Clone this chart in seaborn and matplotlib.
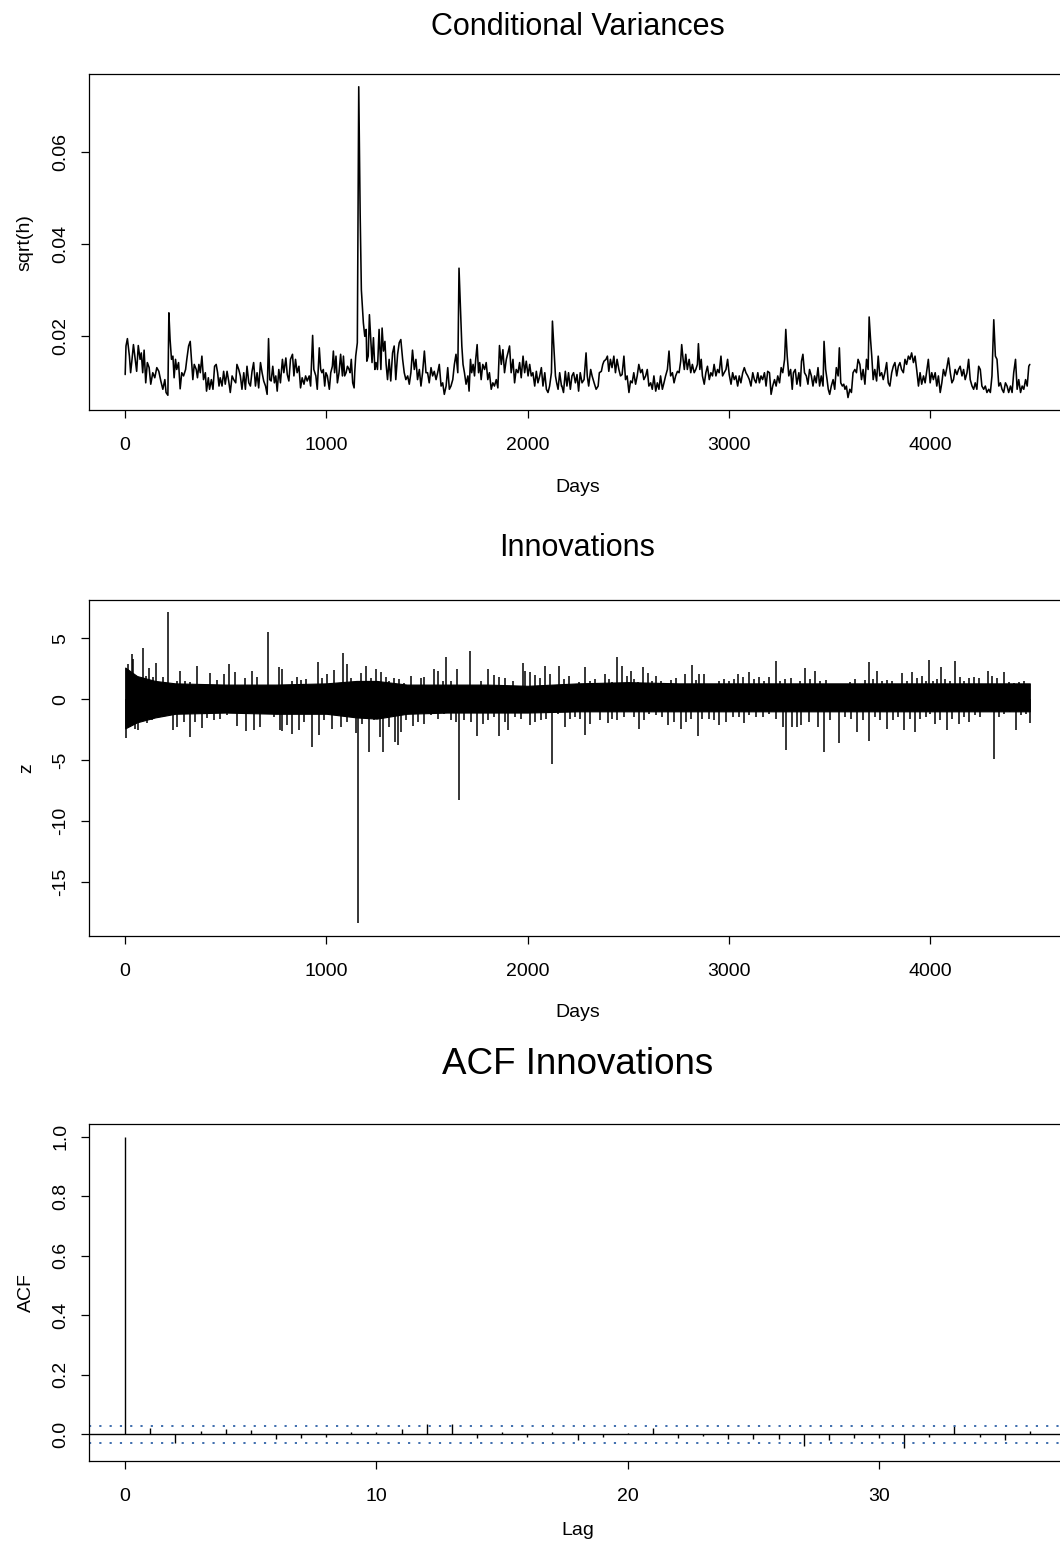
import numpy as np
import pandas as pd
import matplotlib
matplotlib.use("Agg")
import matplotlib.pyplot as plt
import seaborn as sns

# ---------------- data ----------------
vol_days = [1, 5, 12, 22, 28, 35, 42, 51, 58, 66, 75, 81, 88, 95, 103, 111, 120, 128, 138, 148,
            158, 168, 178, 188, 198, 204, 213, 218, 224, 231, 238, 244, 251, 257, 266, 274, 282, 291, 301, 307,
            316, 324, 331, 337, 344, 354, 360, 367, 374, 382, 390, 399, 405, 414, 420, 429, 437, 445, 453, 460,
            467, 473, 482, 490, 498, 507, 515, 523, 532, 540, 550, 556, 565, 573, 581, 590, 598, 606, 615, 623,
            631, 639, 648, 656, 664, 673, 681, 689, 698, 706, 713, 719, 726, 734, 742, 749, 756, 764, 772, 782,
            789, 799, 806, 814, 822, 832, 839, 847, 855, 864, 872, 880, 889, 897, 905, 915, 922, 932, 938, 948,
            955, 965, 972, 978, 985, 992, 998, 1005, 1015, 1022, 1030, 1035, 1041, 1048, 1055, 1063, 1071, 1080, 1085, 1091,
            1098, 1105, 1113, 1118, 1124, 1131, 1138, 1141, 1146, 1154, 1161, 1168, 1174, 1184, 1191, 1198, 1201, 1208, 1214, 1221,
            1227, 1234, 1241, 1247, 1254, 1262, 1271, 1277, 1284, 1291, 1297, 1304, 1312, 1320, 1329, 1337, 1345, 1354, 1362, 1370,
            1379, 1387, 1395, 1404, 1412, 1420, 1428, 1437, 1445, 1453, 1462, 1470, 1478, 1487, 1495, 1503, 1511, 1520, 1528, 1536,
            1545, 1553, 1561, 1570, 1578, 1586, 1595, 1603, 1611, 1619, 1628, 1636, 1644, 1653, 1659, 1666, 1673, 1679, 1686, 1694,
            1703, 1709, 1716, 1722, 1729, 1736, 1742, 1749, 1756, 1762, 1769, 1777, 1786, 1794, 1802, 1810, 1819, 1827, 1835, 1844,
            1852, 1860, 1869, 1877, 1885, 1894, 1902, 1910, 1918, 1927, 1935, 1943, 1952, 1960, 1968, 1977, 1985, 1993, 2002, 2010,
            2018, 2026, 2035, 2043, 2051, 2060, 2068, 2076, 2085, 2093, 2101, 2109, 2118, 2123, 2131, 2138, 2144, 2151, 2159, 2168,
            2170, 2178, 2187, 2195, 2203, 2212, 2220, 2228, 2237, 2245, 2253, 2261, 2270, 2280, 2290, 2296, 2303, 2313, 2320, 2330,
            2340, 2350, 2356, 2366, 2373, 2379, 2389, 2396, 2403, 2411, 2419, 2428, 2436, 2444, 2453, 2461, 2469, 2478, 2486, 2494,
            2503, 2511, 2519, 2527, 2536, 2544, 2552, 2561, 2569, 2577, 2586, 2594, 2602, 2611, 2619, 2627, 2636, 2644, 2652, 2660,
            2669, 2677, 2685, 2694, 2702, 2710, 2719, 2727, 2735, 2744, 2752, 2760, 2765, 2772, 2778, 2785, 2793, 2802, 2810, 2818,
            2827, 2835, 2843, 2848, 2855, 2862, 2868, 2877, 2885, 2893, 2902, 2910, 2918, 2926, 2935, 2943, 2951, 2960, 2968, 2976,
            2985, 2993, 3001, 3010, 3018, 3026, 3034, 3043, 3051, 3059, 3068, 3076, 3084, 3093, 3101, 3109, 3118, 3126, 3134, 3143,
            3151, 3159, 3167, 3176, 3184, 3192, 3201, 3209, 3217, 3226, 3234, 3242, 3251, 3259, 3267, 3276, 3282, 3289, 3297, 3306,
            3314, 3320, 3329, 3337, 3347, 3354, 3360, 3367, 3375, 3384, 3392, 3400, 3409, 3417, 3425, 3433, 3442, 3450, 3458, 3467,
            3472, 3480, 3487, 3493, 3500, 3508, 3517, 3525, 3533, 3542, 3548, 3555, 3563, 3570, 3576, 3583, 3591, 3600, 3608, 3616,
            3625, 3633, 3641, 3650, 3658, 3666, 3675, 3683, 3691, 3696, 3703, 3709, 3716, 3724, 3733, 3741, 3749, 3758, 3766, 3774,
            3783, 3791, 3799, 3808, 3816, 3824, 3833, 3841, 3849, 3857, 3866, 3874, 3882, 3891, 3899, 3907, 3916, 3924, 3932, 3941,
            3949, 3957, 3966, 3974, 3982, 3990, 3999, 4007, 4015, 4024, 4032, 4040, 4049, 4057, 4065, 4074, 4082, 4090, 4099, 4107,
            4115, 4123, 4132, 4140, 4148, 4157, 4165, 4173, 4182, 4190, 4198, 4207, 4215, 4223, 4231, 4240, 4248, 4256, 4265, 4273,
            4281, 4290, 4298, 4306, 4315, 4323, 4331, 4340, 4348, 4356, 4364, 4373, 4381, 4389, 4398, 4406, 4414, 4423, 4431, 4439,
            4448, 4456, 4464, 4473, 4481, 4489, 4494]

vol_values = [0.0116, 0.0178, 0.0194, 0.0156, 0.0120, 0.0149, 0.0181, 0.0149, 0.0123, 0.0179, 0.0149, 0.0163, 0.0120, 0.0169, 0.0098, 0.0142, 0.0131, 0.0095, 0.0120, 0.0109,
              0.0131, 0.0123, 0.0102, 0.0084, 0.0105, 0.0077, 0.0071, 0.0250, 0.0192, 0.0149, 0.0156, 0.0109, 0.0149, 0.0127, 0.0142, 0.0085, 0.0120, 0.0113, 0.0127, 0.0149,
              0.0178, 0.0188, 0.0142, 0.0105, 0.0138, 0.0127, 0.0109, 0.0138, 0.0120, 0.0156, 0.0105, 0.0120, 0.0080, 0.0109, 0.0084, 0.0105, 0.0084, 0.0134, 0.0138, 0.0120,
              0.0091, 0.0109, 0.0091, 0.0123, 0.0095, 0.0123, 0.0102, 0.0077, 0.0113, 0.0105, 0.0098, 0.0138, 0.0127, 0.0113, 0.0084, 0.0120, 0.0084, 0.0134, 0.0098, 0.0091,
              0.0123, 0.0142, 0.0091, 0.0120, 0.0087, 0.0142, 0.0120, 0.0102, 0.0091, 0.0073, 0.0194, 0.0105, 0.0102, 0.0134, 0.0098, 0.0113, 0.0080, 0.0127, 0.0098, 0.0149,
              0.0120, 0.0152, 0.0116, 0.0102, 0.0149, 0.0160, 0.0113, 0.0149, 0.0120, 0.0134, 0.0087, 0.0109, 0.0095, 0.0113, 0.0102, 0.0113, 0.0091, 0.0201, 0.0127, 0.0113,
              0.0084, 0.0174, 0.0127, 0.0120, 0.0127, 0.0091, 0.0120, 0.0113, 0.0084, 0.0120, 0.0134, 0.0167, 0.0120, 0.0156, 0.0098, 0.0120, 0.0160, 0.0113, 0.0156, 0.0113,
              0.0120, 0.0134, 0.0127, 0.0120, 0.0149, 0.0098, 0.0087, 0.0120, 0.0156, 0.0185, 0.0741, 0.0466, 0.0300, 0.0228, 0.0199, 0.0214, 0.0145, 0.0156, 0.0246, 0.0192,
              0.0142, 0.0196, 0.0127, 0.0142, 0.0127, 0.0214, 0.0127, 0.0217, 0.0167, 0.0188, 0.0138, 0.0105, 0.0149, 0.0102, 0.0163, 0.0178, 0.0105, 0.0160, 0.0185, 0.0192,
              0.0149, 0.0120, 0.0105, 0.0113, 0.0095, 0.0120, 0.0169, 0.0127, 0.0149, 0.0105, 0.0127, 0.0091, 0.0120, 0.0167, 0.0120, 0.0120, 0.0098, 0.0131, 0.0113, 0.0123,
              0.0105, 0.0120, 0.0138, 0.0091, 0.0098, 0.0073, 0.0091, 0.0131, 0.0084, 0.0091, 0.0105, 0.0138, 0.0160, 0.0120, 0.0347, 0.0264, 0.0178, 0.0138, 0.0120, 0.0095,
              0.0113, 0.0080, 0.0149, 0.0120, 0.0138, 0.0113, 0.0149, 0.0181, 0.0120, 0.0142, 0.0105, 0.0138, 0.0127, 0.0142, 0.0105, 0.0120, 0.0084, 0.0098, 0.0091, 0.0105,
              0.0087, 0.0179, 0.0138, 0.0170, 0.0120, 0.0149, 0.0163, 0.0178, 0.0120, 0.0149, 0.0098, 0.0127, 0.0120, 0.0142, 0.0109, 0.0156, 0.0120, 0.0145, 0.0113, 0.0138,
              0.0113, 0.0120, 0.0091, 0.0123, 0.0098, 0.0113, 0.0131, 0.0091, 0.0120, 0.0084, 0.0077, 0.0091, 0.0120, 0.0232, 0.0167, 0.0113, 0.0098, 0.0084, 0.0120, 0.0091,
              0.0091, 0.0077, 0.0123, 0.0091, 0.0120, 0.0084, 0.0113, 0.0120, 0.0098, 0.0116, 0.0080, 0.0120, 0.0098, 0.0105, 0.0163, 0.0113, 0.0091, 0.0127, 0.0113, 0.0098,
              0.0084, 0.0091, 0.0120, 0.0123, 0.0138, 0.0145, 0.0149, 0.0156, 0.0123, 0.0149, 0.0131, 0.0156, 0.0120, 0.0149, 0.0127, 0.0113, 0.0116, 0.0156, 0.0105, 0.0113,
              0.0077, 0.0102, 0.0098, 0.0120, 0.0095, 0.0113, 0.0138, 0.0120, 0.0127, 0.0105, 0.0113, 0.0127, 0.0091, 0.0098, 0.0084, 0.0113, 0.0080, 0.0098, 0.0084, 0.0113,
              0.0084, 0.0098, 0.0113, 0.0127, 0.0167, 0.0113, 0.0120, 0.0098, 0.0113, 0.0123, 0.0120, 0.0145, 0.0181, 0.0149, 0.0127, 0.0160, 0.0127, 0.0149, 0.0120, 0.0138,
              0.0120, 0.0127, 0.0138, 0.0183, 0.0127, 0.0149, 0.0113, 0.0095, 0.0120, 0.0134, 0.0105, 0.0120, 0.0113, 0.0138, 0.0113, 0.0127, 0.0120, 0.0156, 0.0113, 0.0120,
              0.0127, 0.0149, 0.0116, 0.0095, 0.0120, 0.0105, 0.0113, 0.0091, 0.0113, 0.0098, 0.0120, 0.0131, 0.0120, 0.0113, 0.0105, 0.0091, 0.0120, 0.0105, 0.0098, 0.0120,
              0.0098, 0.0113, 0.0105, 0.0120, 0.0091, 0.0123, 0.0120, 0.0073, 0.0091, 0.0105, 0.0091, 0.0113, 0.0098, 0.0131, 0.0120, 0.0149, 0.0214, 0.0156, 0.0113, 0.0127,
              0.0084, 0.0120, 0.0127, 0.0095, 0.0120, 0.0091, 0.0145, 0.0160, 0.0120, 0.0113, 0.0095, 0.0127, 0.0113, 0.0091, 0.0113, 0.0098, 0.0131, 0.0091, 0.0113, 0.0091,
              0.0188, 0.0127, 0.0105, 0.0084, 0.0073, 0.0091, 0.0105, 0.0084, 0.0131, 0.0113, 0.0174, 0.0098, 0.0091, 0.0095, 0.0084, 0.0091, 0.0066, 0.0084, 0.0077, 0.0120,
              0.0127, 0.0120, 0.0149, 0.0138, 0.0105, 0.0127, 0.0095, 0.0149, 0.0127, 0.0241, 0.0192, 0.0156, 0.0105, 0.0127, 0.0102, 0.0156, 0.0113, 0.0120, 0.0105, 0.0120,
              0.0142, 0.0098, 0.0091, 0.0120, 0.0134, 0.0142, 0.0113, 0.0134, 0.0142, 0.0127, 0.0120, 0.0149, 0.0138, 0.0156, 0.0149, 0.0163, 0.0142, 0.0156, 0.0127, 0.0091,
              0.0120, 0.0095, 0.0113, 0.0098, 0.0123, 0.0149, 0.0098, 0.0120, 0.0105, 0.0120, 0.0091, 0.0113, 0.0077, 0.0098, 0.0127, 0.0113, 0.0131, 0.0152, 0.0120, 0.0098,
              0.0105, 0.0127, 0.0116, 0.0127, 0.0134, 0.0113, 0.0127, 0.0105, 0.0120, 0.0149, 0.0105, 0.0091, 0.0084, 0.0098, 0.0084, 0.0134, 0.0127, 0.0091, 0.0084, 0.0091,
              0.0077, 0.0084, 0.0077, 0.0113, 0.0235, 0.0156, 0.0149, 0.0091, 0.0098, 0.0084, 0.0077, 0.0098, 0.0091, 0.0077, 0.0091, 0.0077, 0.0120, 0.0149, 0.0084, 0.0105,
              0.0077, 0.0091, 0.0084, 0.0105, 0.0091, 0.0134, 0.0138]

# Innovations: dense core band (upper / lower edge) and the spikes that stick out of it
z_core_days = [1, 60, 150, 250, 500, 750, 1000, 1150, 1250, 1400, 1600, 1800, 2000, 2250, 2500, 2750, 3000, 3250, 3500, 3750, 4000, 4250, 4494]
z_core_hi = [2.6, 1.9, 1.5, 1.3, 1.2, 1.2, 1.3, 1.5, 1.5, 1.2, 1.2, 1.2, 1.1, 1.3, 1.4, 1.3, 1.3, 1.3, 1.3, 1.3, 1.3, 1.3, 1.3]
z_core_lo = [-2.4, -1.9, -1.5, -1.2, -1.1, -1.2, -1.2, -1.5, -1.6, -1.2, -1.1, -1.1, -1.1, -1.0, -1.0, -1.0, -1.0, -1.0, -1.0, -1.0, -1.0, -1.0, -1.0]

z_up_days = [8, 17, 33, 42, 50, 66, 91, 105, 121, 138, 154, 174, 191, 214, 233, 257, 274, 299, 324, 357,
             382, 424, 457, 490, 515, 548, 573, 598, 631, 656, 681, 709, 739, 764, 781, 806, 831, 855, 872, 897,
             922, 958, 980, 1005, 1038, 1063, 1081, 1101, 1121, 1148, 1171, 1196, 1221, 1247, 1271, 1296, 1312, 1337, 1362, 1387,
             1420, 1445, 1470, 1487, 1512, 1533, 1553, 1578, 1596, 1619, 1649, 1669, 1686, 1712, 1736, 1769, 1801, 1835, 1860, 1885,
             1927, 1952, 1975, 1985, 2010, 2035, 2060, 2085, 2109, 2134, 2154,
             2178, 2203, 2228, 2253, 2286, 2311, 2336, 2361, 2386, 2403, 2419, 2446, 2469, 2494, 2511, 2527, 2549, 2572, 2599, 2619,
             2636, 2660, 2685, 2710, 2735, 2760, 2782, 2818, 2835, 2852, 2877, 2902, 2926, 2951, 2976, 3001, 3026, 3043, 3068, 3101,
             3126, 3151, 3176, 3201, 3232, 3251, 3276, 3309, 3334, 3354, 3377, 3400, 3425, 3450, 3483, 3508, 3533, 3567, 3600, 3625,
             3650, 3675, 3696, 3716, 3734, 3758, 3783, 3808, 3833, 3857, 3882, 3907, 3932, 3957, 3977, 3995, 4015, 4032, 4054, 4074,
             4099, 4120, 4148, 4165, 4190, 4218, 4240, 4265, 4285, 4306, 4331, 4364, 4389, 4414, 4439, 4464, 4489]
z_up_values = [1.94, 2.90, 3.72, 3.31, 1.80, 1.80, 4.21, 1.94, 2.57, 1.80, 2.95, 1.20, 1.80, 7.13, 0.98, 1.53, 2.35, 1.48, 1.39, 2.76,
               1.26, 2.13, 1.58, 2.08, 2.90, 2.21, 1.12, 1.75, 2.35, 1.86, 0.98, 5.49, 0.98, 2.68, 2.49, 1.12, 1.53, 1.86, 1.58, 1.67,
               1.12, 3.03, 1.75, 2.08, 2.40, 0.85, 3.77, 2.90, 1.75, 1.53, 2.13, 2.76, 1.75, 2.49, 2.21, 1.86, 1.48, 1.75, 1.67, 1.31,
               1.94, 0.85, 1.75, 1.86, 0.85, 2.49, 2.35, 1.48, 3.50, 1.48, 2.46, 0.71, 1.12, 3.99, 1.12, 1.53, 2.49, 2.02, 1.80, 1.75,
               1.53, 0.71, 2.95, 2.35, 2.27, 2.02, 1.75, 2.76, 2.08, 1.12, 2.76,
               1.67, 1.94, 0.98, 1.39, 2.68, 1.53, 1.67, 0.98, 2.08, 1.67, 1.39, 3.44, 2.76, 1.94, 2.35, 1.67, 1.39, 2.62, 2.13, 1.53,
               1.94, 1.53, 1.26, 1.58, 1.75, 1.26, 2.08, 2.84, 1.58, 2.08, 2.08, 0.98, 1.26, 1.53, 1.67, 1.53, 1.67, 2.08, 1.80, 2.21,
               1.67, 1.86, 1.53, 1.80, 3.11, 1.53, 1.67, 1.75, 0.98, 1.53, 2.57, 1.67, 2.30, 1.53, 1.58, 1.26, 1.12, 1.26, 1.39, 1.67,
               1.12, 1.58, 3.03, 1.67, 2.35, 1.53, 1.58, 1.48, 1.26, 2.13, 1.53, 2.21, 1.75, 1.94, 1.53, 3.25, 1.53, 1.67, 2.68, 1.67,
               1.53, 3.11, 1.86, 1.53, 1.75, 1.80, 1.75, 1.26, 2.30, 1.94, 1.75, 2.21, 1.39, 1.31, 1.39, 1.53, 0.57]

z_down_days = [3, 12, 25, 38, 50, 66, 83, 108, 133, 158, 191, 211, 238, 257, 291, 324, 349, 382, 407, 440,
               473, 507, 556, 601, 639, 673, 706, 739, 769, 781, 806, 831, 864, 889, 928, 965, 988, 1030, 1071, 1105,
               1124, 1148, 1158, 1179, 1213, 1237, 1267, 1279, 1312, 1342, 1357, 1370, 1395, 1428, 1453, 1487, 1520, 1553, 1586, 1619,
               1644, 1658, 1686, 1719, 1749, 1777, 1802, 1835, 1857, 1885, 1902, 1935, 1968, 2010, 2035, 2068, 2093, 2119, 2151,
               2187, 2212, 2237, 2261, 2286, 2310, 2336, 2361, 2398, 2419, 2444, 2478, 2503, 2527, 2552, 2577, 2602, 2636, 2669, 2699,
               2727, 2764, 2785, 2810, 2847, 2868, 2902, 2926, 2951, 2985, 3018, 3051, 3076, 3101, 3134, 3167, 3201, 3234, 3267, 3282,
               3314, 3337, 3359, 3397, 3442, 3470, 3500, 3547, 3575, 3608, 3638, 3666, 3696, 3724, 3749, 3783, 3816, 3841, 3869, 3899,
               3924, 3949, 3979, 3999, 4024, 4049, 4085, 4107, 4140, 4165, 4193, 4223, 4248, 4278, 4315, 4340, 4364, 4398, 4423, 4448,
               4473, 4494]
z_down_values = [-3.20, -1.48, -2.30, -2.16, -2.43, -2.51, -1.48, -1.97, -1.75, -1.26, -1.48, -1.07, -2.51, -2.30, -1.89, -3.11, -1.89, -2.35, -1.53, -1.75,
                 -1.61, -1.34, -2.24, -2.65, -2.57, -2.30, -1.20, -1.48, -2.57, -2.62, -2.16, -2.84, -2.51, -1.89, -3.93, -2.98, -1.75, -2.43, -2.30, -1.89,
                 -1.48, -2.79, -18.42, -2.02, -4.34, -1.75, -3.11, -4.34, -2.30, -3.52, -3.74, -2.70, -1.75, -2.24, -1.89, -2.02, -1.34, -1.61, -1.20, -1.75,
                 -1.89, -8.25, -1.75, -1.89, -3.06, -2.02, -1.75, -1.48, -3.03, -1.89, -2.51, -1.48, -1.61, -2.16, -1.89, -1.75, -1.61, -5.30, -1.20,
                 -2.30, -1.61, -1.48, -1.61, -2.98, -2.08, -0.79, -1.75, -1.97, -1.61, -1.75, -1.48, -0.93, -1.48, -2.43, -1.75, -1.20, -1.34, -1.48, -2.16,
                 -1.89, -2.43, -1.89, -1.61, -3.06, -1.61, -1.61, -1.75, -2.16, -1.89, -1.48, -1.48, -1.97, -1.34, -1.48, -1.48, -1.20, -1.61, -2.30, -4.21,
                 -2.30, -2.30, -2.16, -1.89, -2.30, -4.34, -1.75, -3.58, -1.48, -1.61, -2.70, -1.75, -3.44, -1.48, -1.75, -2.43, -1.75, -1.48, -2.57, -1.61,
                 -2.70, -1.61, -1.48, -1.20, -2.02, -1.75, -2.57, -1.61, -2.02, -1.48, -1.89, -1.34, -1.48, -0.93, -4.89, -1.48, -1.20, -1.07, -2.51, -1.34,
                 -1.20, -1.97]

acf_lags = list(range(37))
acf_values = [1.0, 0.020, -0.028, 0.011, 0.019, 0.013, -0.015, -0.013, -0.009, 0.007,
              0.009, 0.016, 0.034, 0.034, -0.013, 0.007, -0.008, 0.009, -0.019, -0.009,
              0.003, 0.020, -0.013, -0.007, -0.017, -0.017, -0.017, -0.041, -0.020, -0.013,
              -0.013, -0.047, -0.010, 0.027, -0.009, -0.019, 0.010]
n_obs = 4494

# ---------------- styling ----------------
sns.set_theme(style="white")
plt.rcParams['font.family'] = ['Liberation Sans', 'DejaVu Sans']
plt.rcParams['axes.unicode_minus'] = False

W, H = 1060, 1544
fig = plt.figure(figsize=(W / 100, H / 100), dpi=100)
fig.patch.set_facecolor('white')

LEFT, WIDTH = 89, 977


def make_ax(top, bottom):
    return fig.add_axes([LEFT / W, 1 - bottom / H, WIDTH / W, (bottom - top) / H])


def r_range(lo, hi):
    d = hi - lo
    return lo - 0.04 * d, hi + 0.04 * d


def style(ax):
    ax.set_facecolor('white')
    for s in ax.spines.values():
        s.set_visible(True)
        s.set_color('black')
        s.set_linewidth(0.9)
    ax.tick_params(axis='both', which='both', direction='out', length=5.5, width=0.9,
                   color='black', labelsize=14, labelcolor='black',
                   bottom=True, left=True, top=False, right=False)
    ax.tick_params(axis='x', pad=14)
    ax.tick_params(axis='y', pad=8.5)
    for lab in ax.get_yticklabels():
        lab.set_rotation(90)
        lab.set_va('center')
    ax.grid(False)


title_kw = dict(ha='center', va='center', color='black')
CX = (LEFT + WIDTH / 2) / W

# ---- panel 1: conditional volatility ----
ax1 = make_ax(74.3, 410)
vol_df = pd.DataFrame({'Days': vol_days, 'sqrt(h)': vol_values})
sns.lineplot(data=vol_df, x='Days', y='sqrt(h)', ax=ax1, color='black', linewidth=1.15,
             estimator=None, sort=False)
ax1.set_xlim(*r_range(1, n_obs))
ax1.set_ylim(*r_range(min(vol_values), max(vol_values)))
ax1.set_xticks([0, 1000, 2000, 3000, 4000])
ax1.set_yticks([0.02, 0.04, 0.06])
ax1.set_yticklabels(['0.02', '0.04', '0.06'])
style(ax1)
ax1.set_xlabel('Days', fontsize=14, color='black')
ax1.set_ylabel('sqrt(h)', fontsize=14, color='black')
ax1.xaxis.set_label_coords(0.5, -(479 - 410) / 335.7)
ax1.yaxis.set_label_coords((33 - LEFT) / WIDTH, 0.5)
fig.text(CX, 1 - 27 / H, 'Conditional Variances', fontsize=22, **title_kw)

# ---- panel 2: innovations ----
ax2 = make_ax(600, 935.7)
ax2.fill_between(z_core_days, z_core_lo, z_core_hi, color='black', linewidth=0.8)
ax2.vlines(z_up_days, 0, z_up_values, color='black', linewidth=1.1)
ax2.vlines(z_down_days, 0, z_down_values, color='black', linewidth=1.1)
ax2.set_xlim(*r_range(1, n_obs))
ax2.set_ylim(*r_range(min(z_down_values), max(z_up_values)))
ax2.set_xticks([0, 1000, 2000, 3000, 4000])
ax2.set_yticks([-15, -10, -5, 0, 5])
style(ax2)
ax2.set_xlabel('Days', fontsize=14, color='black')
ax2.set_ylabel('z', fontsize=14, color='black')
ax2.xaxis.set_label_coords(0.5, -(478 - 410) / 335.7)
ax2.yaxis.set_label_coords((35 - LEFT) / WIDTH, 0.5)
fig.text(CX, 1 - 548 / H, 'Innovations', fontsize=22, **title_kw)

# ---- panel 3: ACF ----
ax3 = make_ax(1124.3, 1460.7)
clim = 1.96 / np.sqrt(n_obs)
ax3.vlines(acf_lags, 0, acf_values, color='black', linewidth=1.0)
ax3.axhline(0, color='black', linewidth=1.0)
for c in (clim, -clim):
    ax3.axhline(c, color='#2f62a8', linewidth=1.3, linestyle=(0, (1.2, 4.5)))
ax3.set_xlim(*r_range(0, max(acf_lags)))
ax3.set_ylim(*r_range(min(min(acf_values), -clim), max(max(acf_values), clim)))
ax3.set_xticks([0, 10, 20, 30])
ax3.set_yticks([0.0, 0.2, 0.4, 0.6, 0.8, 1.0])
ax3.set_yticklabels(['0.0', '0.2', '0.4', '0.6', '0.8', '1.0'])
style(ax3)
ax3.set_xlabel('Lag', fontsize=14, color='black')
ax3.set_ylabel('ACF', fontsize=14, color='black')
ax3.xaxis.set_label_coords(0.5, -(1522 - 1460.7) / 336.4)
ax3.yaxis.set_label_coords((35 - LEFT) / WIDTH, 0.5)
fig.text(CX, 1 - 1065 / H, 'ACF Innovations', fontsize=26.5, **title_kw)

fig.savefig('out.png', dpi=100, facecolor='white')
